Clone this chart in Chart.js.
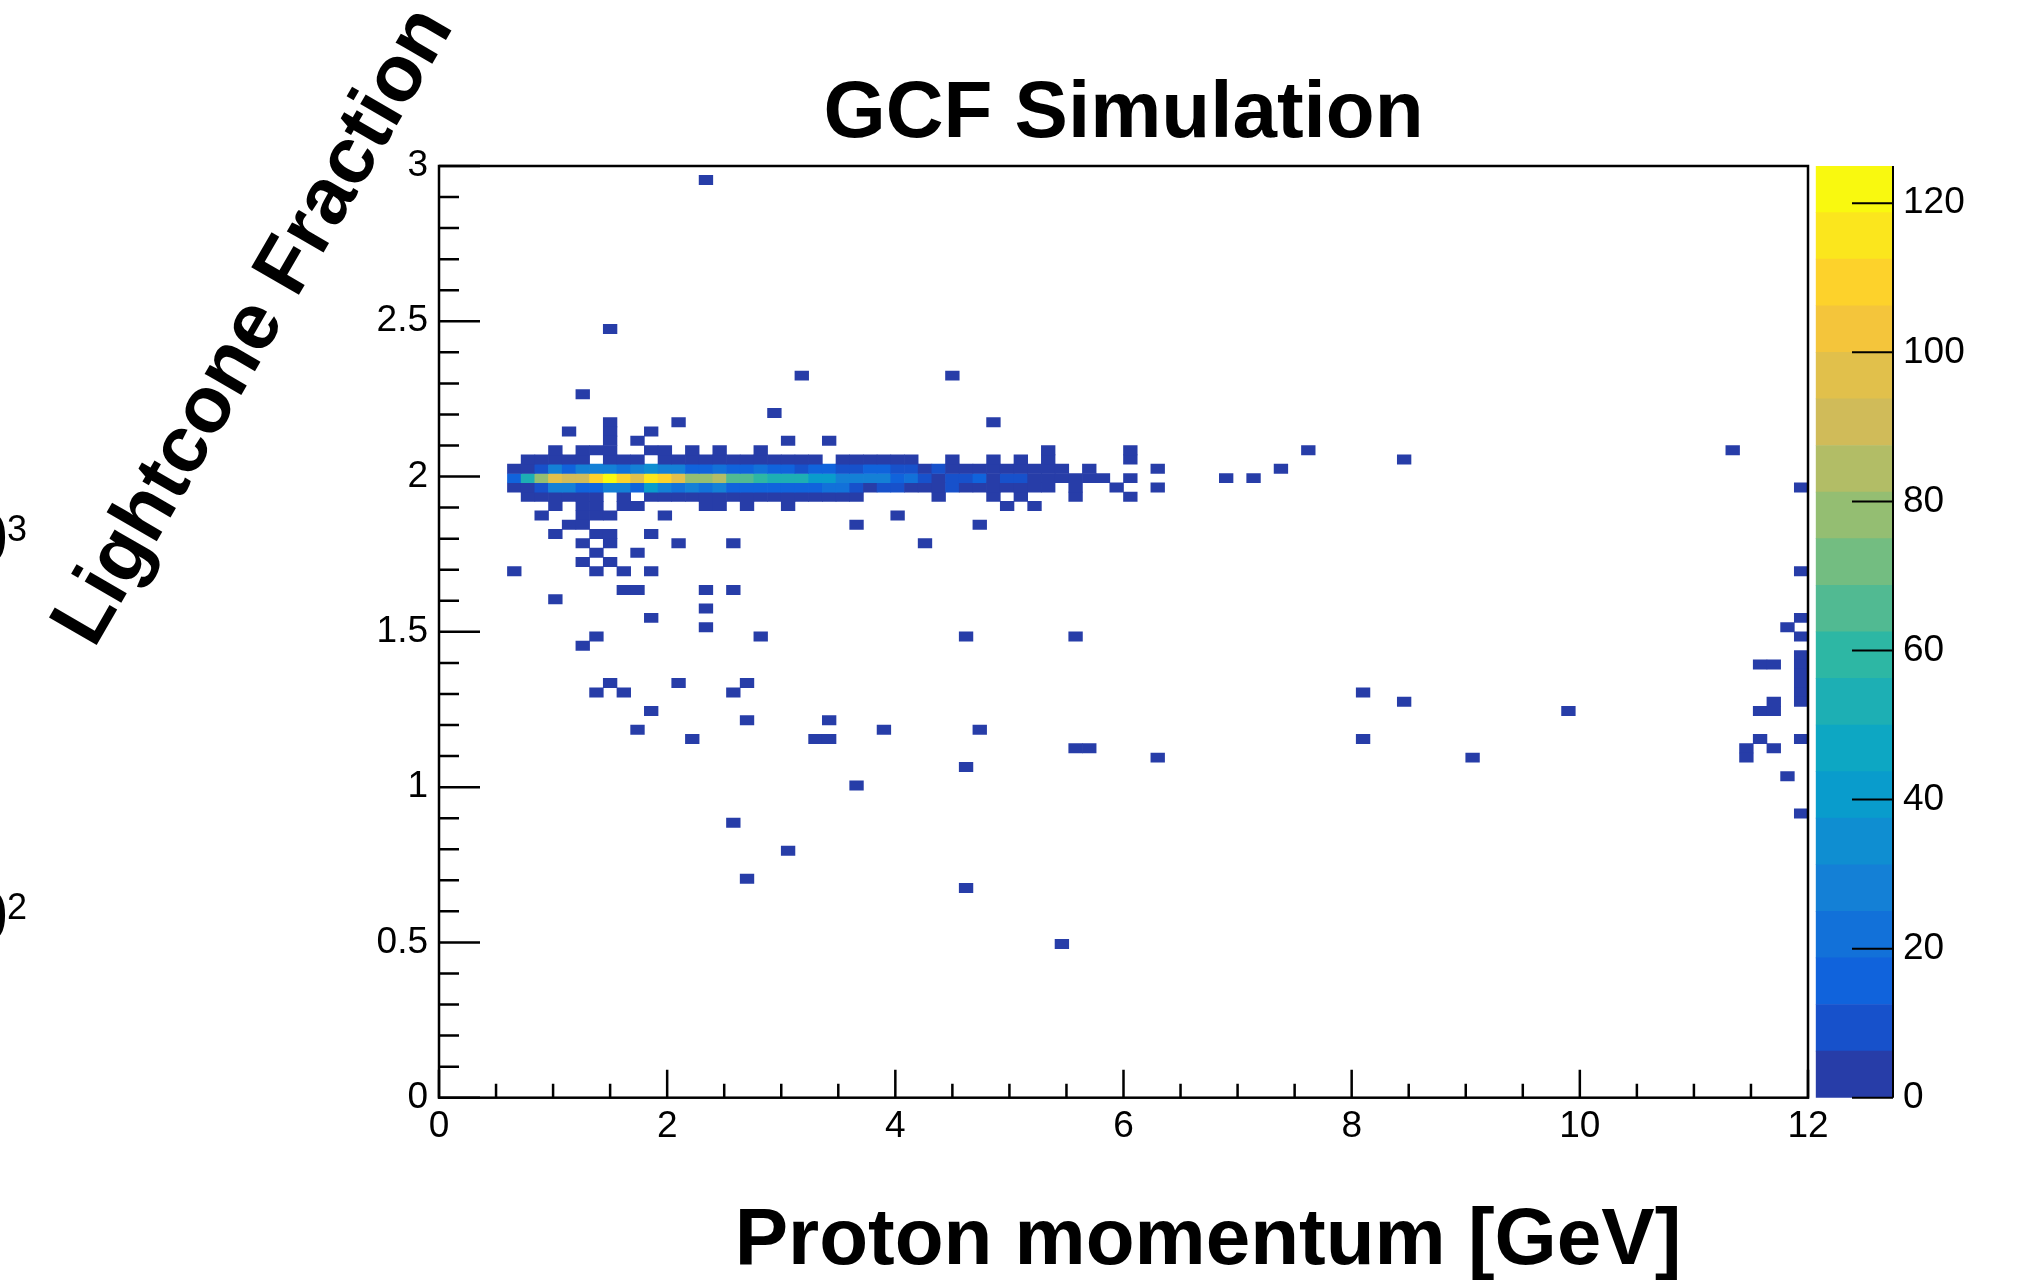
<!DOCTYPE html>
<html>
<head>
<meta charset="utf-8">
<script src="https://cdn.jsdelivr.net/npm/chart.js@4.4.1/dist/chart.umd.min.js"></script>
<style>
  html, body { margin: 0; padding: 0; background: #fff; }
  #wrap { position: relative; width: 2019px; height: 1280px; }
  canvas { position: absolute; left: 0; top: 0; }
</style>
</head>
<body>
<div id="wrap">
  <canvas id="hist" width="2019" height="1280"></canvas>
  <canvas id="palette" width="2019" height="1280"></canvas>
</div>
<script>
// histogram binning
var nBinsX = 100, xMin = 0, xMax = 12;
var nBinsY = 100, yMin = 0, yMax = 3;
var zMax = 125, nLevels = 20;

var xTicks = [0, 2, 4, 6, 8, 10, 12];
var yTicks = [0, 0.5, 1, 1.5, 2, 2.5, 3];
var zTicks = [0, 20, 40, 60, 80, 100, 120];

var titleText = 'GCF Simulation';
var xTitle = 'Proton momentum [GeV]';
var yTitle = 'Lightcone Fraction';

// the band around 2: counts per x bin, starting at x bin 5
var bandStart = 5;
var row68 = [0,2,2,3,2,2,0,3,2,2, 0,2,3,2,2,3,2,2,2,2, 2,2,1,0,1,2,1,1,1,1, 0,0,1,0,0,1,0,1,0,1, 0,0,0,0,0,1,0,0];
var row67 = [5,5,10,27,16,26,26,26,20,28, 35,27,27,16,16,21,15,15,20,15, 15,11,14,14,10,10,13,13,9,9, 5,8,3,3,3,3,3,3,2,2, 2,0,1,0,0,0,0,1];
var row66 = [15,53,78,97,90,90,110,122,110,97, 116,110,97,78,78,84,65,65,59,53, 53,53,40,40,28,28,25,25,15,21, 9,4,10,10,15,5,10,10,3,3, 2,2,2,2,0,1,0,0];
var row65 = [4,4,10,26,26,18,18,25,25,16, 38,25,19,25,19,25,15,15,15,15, 15,15,15,20,20,11,5,9,9,5, 5,5,8,3,3,3,3,3,2,2, 0,1,0,0,1,0,0,1];
var row64 = [0,2,2,2,2,2,2,0,2,0, 2,2,2,2,2,2,2,2,2,2, 2,2,2,2,2,2,0,0,0,0, 0,1,0,0,0,1,0,1,0,0, 0,1,0,0,0,1,0,0];
var bandRows = [64, 65, 66, 67, 68];

// single entries: [y bin, [x bins]]
var singleHits = [
  [98, [19]], [82, [12]], [77, [26, 37]], [75, [10]], [73, [24]],
  [72, [12, 17, 40]], [71, [9, 12, 15]], [70, [12, 14, 25, 28]],
  [69, [8, 10, 11, 12, 15, 16, 18, 20, 23, 44, 50, 63, 94]],
  [68, [70]], [67, [61]], [66, [57, 59]], [65, [99]],
  [63, [8, 10, 11, 13, 14, 19, 20, 22, 25, 41, 43]],
  [62, [7, 10, 11, 12, 16, 33]], [61, [9, 10, 30, 39]], [60, [8, 11, 12, 15]],
  [59, [10, 12, 17, 21, 35]], [58, [11, 14]], [57, [10, 12]], [56, [5, 11, 13, 15, 99]],
  [54, [13, 14, 19, 21]], [53, [8]], [52, [19]], [51, [15, 99]], [50, [19, 98]],
  [49, [11, 23, 38, 46, 99]], [48, [10]], [47, [99]], [46, [96, 97, 99]], [45, [99]],
  [44, [12, 17, 22, 99]], [43, [11, 13, 21, 67, 99]], [42, [70, 97, 99]],
  [41, [15, 82, 96, 97]], [40, [22, 28]], [39, [14, 32, 39]],
  [38, [18, 27, 28, 67, 96, 99]], [37, [46, 47, 95, 97]], [36, [52, 75, 95]],
  [35, [38]], [34, [98]], [33, [30]], [30, [99]], [29, [21]], [26, [25]],
  [23, [22]], [22, [38]], [16, [45]]
];

// kBird palette stops
var birdStops = [0.0, 0.125, 0.25, 0.375, 0.5, 0.625, 0.75, 0.875, 1.0];
var birdRed   = [0.2082, 0.0592, 0.0780, 0.0232, 0.1802, 0.5301, 0.8186, 0.9956, 0.9764];
var birdGreen = [0.1664, 0.3599, 0.5041, 0.6419, 0.7178, 0.7492, 0.7328, 0.7862, 0.9832];
var birdBlue  = [0.5293, 0.8684, 0.8385, 0.7914, 0.6425, 0.4662, 0.3499, 0.1968, 0.0539];

function birdColor(f) {
  var i = 0;
  while (i < birdStops.length - 2 && f > birdStops[i + 1]) i++;
  var t = (f - birdStops[i]) / (birdStops[i + 1] - birdStops[i]);
  var r = birdRed[i] + t * (birdRed[i + 1] - birdRed[i]);
  var g = birdGreen[i] + t * (birdGreen[i + 1] - birdGreen[i]);
  var b = birdBlue[i] + t * (birdBlue[i + 1] - birdBlue[i]);
  return 'rgb(' + Math.round(r * 255) + ',' + Math.round(g * 255) + ',' + Math.round(b * 255) + ')';
}

function levelOf(v) {
  return Math.min(nLevels - 1, Math.floor(0.01 + v * nLevels / zMax));
}
function levelColor(level) {
  var idx = Math.floor((level + 0.99) * 255 / nLevels);
  return birdColor(idx / 255);
}

var cells = [];
function addCell(col, row, n) {
  if (n <= 0) return;
  var w = (xMax - xMin) / nBinsX, h = (yMax - yMin) / nBinsY;
  cells.push({ x: xMin + (col + 0.5) * w, y: [yMin + row * h, yMin + (row + 1) * h], v: n });
}
[row64, row65, row66, row67, row68].forEach(function(counts, k) {
  counts.forEach(function(n, i) { addCell(bandStart + i, bandRows[k], n); });
});
singleHits.forEach(function(h) {
  h[1].forEach(function(col) { addCell(col, h[0], 1); });
});

var font = '"Liberation Sans", Arial, Helvetica, sans-serif';

// ROOT style frame with ticks pointing inwards
var rootFrame = {
  id: 'rootFrame',
  afterDatasetsDraw: function(chart) {
    var ctx = chart.ctx, a = chart.chartArea;
    var xs = chart.scales.x, ys = chart.scales.y;
    ctx.save();
    ctx.strokeStyle = '#000';
    ctx.lineWidth = 2.5;
    ctx.strokeRect(a.left, a.top, a.right - a.left, a.bottom - a.top);
    ctx.beginPath();
    for (var i = 0; i <= 24; i++) {
      var px = xs.getPixelForValue(i * 0.5);
      var len = i % 4 === 0 ? 28 : 14;
      ctx.moveTo(px, a.bottom);
      ctx.lineTo(px, a.bottom - len);
    }
    for (var j = 0; j <= 30; j++) {
      var py = ys.getPixelForValue(j * 0.1);
      var l2 = j % 5 === 0 ? 41 : 20;
      ctx.moveTo(a.left, py);
      ctx.lineTo(a.left + l2, py);
    }
    ctx.stroke();
    ctx.restore();
  }
};

var rootTexts = {
  id: 'rootTexts',
  afterDraw: function(chart) {
    var ctx = chart.ctx, a = chart.chartArea;
    ctx.save();
    ctx.fillStyle = '#000';
    ctx.textBaseline = 'alphabetic';
    ctx.textAlign = 'center';
    ctx.font = 'bold 80px ' + font;
    ctx.fillText(titleText, (a.left + a.right) / 2, 137);
    ctx.fillText(xTitle, 1208, 1264);
    ctx.save();
    ctx.translate(274, 338);
    ctx.rotate(-Math.PI / 3);
    ctx.fillText(yTitle, 0, 0);
    ctx.restore();
    // cut-off exponents of a neighbouring pad
    ctx.textAlign = 'right';
    ctx.font = 'bold 70px ' + font;
    ctx.fillText('10', 8, 562);
    ctx.fillText('10', 8, 940);
    ctx.textAlign = 'left';
    ctx.font = '36px ' + font;
    ctx.fillText('3', 7, 541);
    ctx.fillText('2', 7, 919);
    ctx.restore();
  }
};

new Chart(document.getElementById('hist'), {
  type: 'bar',
  data: {
    datasets: [{
      data: cells,
      backgroundColor: function(c) { return c.raw ? levelColor(levelOf(c.raw.v)) : '#fff'; },
      borderWidth: 0,
      grouped: false,
      barPercentage: 1,
      categoryPercentage: 1
    }]
  },
  options: {
    responsive: false,
    animation: false,
    devicePixelRatio: 1,
    layout: { padding: { left: 0, right: 211, top: 166, bottom: 0 } },
    plugins: { legend: { display: false }, tooltip: { enabled: false }, title: { display: false } },
    scales: {
      x: {
        type: 'linear', min: xMin, max: xMax, offset: false,
        grid: { display: false, drawTicks: false }, border: { display: false },
        afterBuildTicks: function(s) { s.ticks = xTicks.map(function(v) { return { value: v }; }); },
        ticks: { padding: 7, color: '#000', maxRotation: 0, font: { family: font, size: 37 },
          callback: function(v) { return String(v); } },
        afterFit: function(s) { s.height = 182.3; }
      },
      y: {
        type: 'linear', min: yMin, max: yMax,
        grid: { display: false, drawTicks: false }, border: { display: false },
        afterBuildTicks: function(s) { s.ticks = yTicks.map(function(v) { return { value: v }; }); },
        ticks: { padding: 11, color: '#000', font: { family: font, size: 37 },
          callback: function(v) { return String(v); } },
        afterFit: function(s) { s.width = 439; }
      }
    }
  },
  plugins: [rootFrame, rootTexts]
});

// colour palette on the right
var levelSets = [];
for (var k = 0; k < nLevels; k++) {
  levelSets.push({
    data: [[k * zMax / nLevels, (k + 1) * zMax / nLevels]],
    backgroundColor: levelColor(k),
    borderWidth: 0,
    grouped: false,
    barPercentage: 1,
    categoryPercentage: 1
  });
}

var paletteTicks = {
  id: 'paletteTicks',
  afterDraw: function(chart) {
    var ctx = chart.ctx, a = chart.chartArea, zs = chart.scales.y;
    ctx.save();
    ctx.strokeStyle = '#000';
    ctx.lineWidth = 2;
    ctx.beginPath();
    ctx.moveTo(a.right, a.top);
    ctx.lineTo(a.right, a.bottom);
    zTicks.forEach(function(v) {
      var py = zs.getPixelForValue(v);
      ctx.moveTo(a.right, py);
      ctx.lineTo(a.right - 41, py);
    });
    ctx.stroke();
    ctx.restore();
  }
};

new Chart(document.getElementById('palette'), {
  type: 'bar',
  data: { labels: [''], datasets: levelSets },
  options: {
    responsive: false,
    animation: false,
    devicePixelRatio: 1,
    layout: { padding: { left: 1815.7, right: 0, top: 166, bottom: 182.3 } },
    plugins: { legend: { display: false }, tooltip: { enabled: false } },
    scales: {
      x: { display: false },
      y: {
        position: 'right', min: 0, max: zMax,
        grid: { display: false, drawTicks: false }, border: { display: false },
        afterBuildTicks: function(s) { s.ticks = zTicks.map(function(v) { return { value: v }; }); },
        ticks: { padding: 10, color: '#000', font: { family: font, size: 37 },
          callback: function(v) { return String(v); } },
        afterFit: function(s) { s.width = 126; }
      }
    }
  },
  plugins: [paletteTicks]
});
</script>
</body>
</html>
